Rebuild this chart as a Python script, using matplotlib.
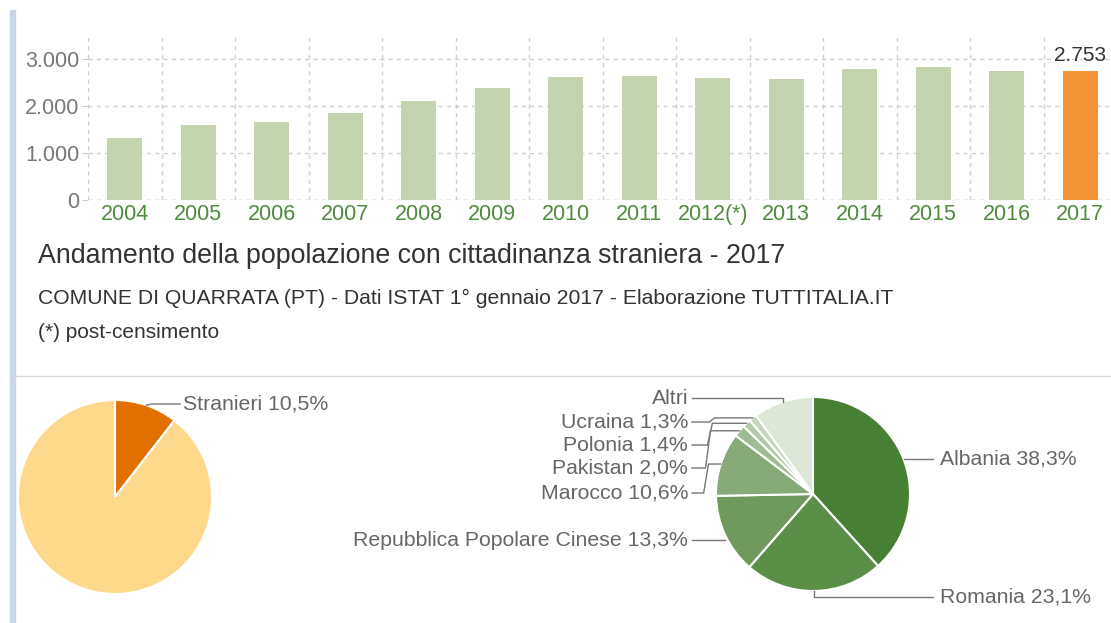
import numpy as np
import matplotlib.pyplot as plt
from matplotlib.patches import Rectangle
from matplotlib.lines import Line2D

plt.rcParams['font.family'] = ['Liberation Sans', 'DejaVu Sans']

W, H = 1111, 623

# ---- data ----
years = ["2004", "2005", "2006", "2007", "2008", "2009", "2010",
         "2011", "2012(*)", "2013", "2014", "2015", "2016", "2017"]
foreigners = [1315, 1600, 1670, 1850, 2110, 2395, 2620,
              2650, 2610, 2580, 2785, 2840, 2750, 2753]

share_labels = ["Stranieri", "Italiani"]
share_values = [10.5, 89.5]

countries = ["Albania", "Romania", "Repubblica Popolare Cinese", "Marocco",
             "Pakistan", "Polonia", "Ucraina", "Altri"]
country_pct = [38.3, 23.1, 13.3, 10.6, 2.0, 1.4, 1.3, 10.0]


def fbox(x0, y0, x1, y1):
    # pixel box (top-left origin) -> figure fraction rect
    return [x0 / W, 1 - y1 / H, (x1 - x0) / W, (y1 - y0) / H]


fig = plt.figure(figsize=(W / 100, H / 100), dpi=100)
fig.patch.set_facecolor("white")

# left blue stripe + separator
fig.patches.append(Rectangle((10 / W, 0), 5 / W, 1 - 10 / H, transform=fig.transFigure,
                             color="#c9d6e6", zorder=0))
fig.add_artist(Line2D([15 / W, 1], [1 - 376 / H] * 2, color="#dcdcdc", lw=1))

# ---- bar chart ----
ax = fig.add_axes(fbox(88, 35, 1117, 200))
x = np.arange(len(years))
colors = ["#c3d4ae"] * (len(years) - 1) + ["#f39335"]
ax.bar(x, foreigners, width=0.48, color=colors, zorder=2)
ax.set_xlim(-0.5, len(years) - 0.5)
ax.set_ylim(0, 3520)
ax.set_yticks([0, 1000, 2000, 3000])
ax.set_yticklabels(["0", "1.000", "2.000", "3.000"])
ax.set_xticks(x)
ax.set_xticklabels(years)
ax.set_xticks(np.arange(-0.5, len(years), 1), minor=True)
ax.tick_params(axis="y", colors="#cccccc", labelcolor="#777777", labelsize=15.5, length=4, pad=2)
ax.tick_params(axis="x", which="major", length=0, labelcolor="#4e8a3e", labelsize=15.5, pad=3)
ax.tick_params(axis="x", which="minor", length=0)
for s in ax.spines.values():
    s.set_visible(False)
ax.grid(axis="y", which="major", color="#cfcfcf", ls=(0, (3, 3)), lw=1, zorder=0)
ax.grid(axis="x", which="minor", color="#cfcfcf", ls=(0, (3, 3)), lw=1, zorder=0)
ax.axhline(0, color="#bbbbbb", ls=(0, (3, 3)), lw=1, zorder=1)
last = len(years) - 1
ax.text(x[last], foreigners[last] + 120, f"{foreigners[last]:,}".replace(",", "."),
        ha="center", va="bottom", fontsize=15, color="#333333")

# ---- titles ----
fig.text(38 / W, 1 - 256 / H, "Andamento della popolazione con cittadinanza straniera - 2017",
         fontsize=19.3, color="#333333", va="center")
fig.text(38 / W, 1 - 298 / H,
         "COMUNE DI QUARRATA (PT) - Dati ISTAT 1° gennaio 2017 - Elaborazione TUTTITALIA.IT",
         fontsize=15.2, color="#333333", va="center")
fig.text(38 / W, 1 - 332 / H, "(*) post-censimento", fontsize=15, color="#333333", va="center")


def pie_axes(cx, cy, r):
    return fig.add_axes(fbox(cx - r, cy - r, cx + r, cy + r))


def finish_pie(a):
    a.set_xlim(-1, 1)
    a.set_ylim(-1, 1)
    a.set_aspect("equal")
    a.axis("off")


def edge_point(cum_before, pct):
    ang = np.deg2rad((cum_before + pct / 2) * 3.6)
    return np.sin(ang), np.cos(ang)


label_col = "#666666"
line_col = "#777777"
lab_size = 15.3

# ---- left pie ----
R = 97
lcx, lcy = 115, 497
pa = pie_axes(lcx, lcy, R)
pa.pie(share_values, colors=["#e17000", "#fed98c"], startangle=90, counterclock=False,
       radius=1, wedgeprops=dict(edgecolor="white", linewidth=1.5))
finish_pie(pa)
ex, ey = edge_point(0, share_values[0])
ty = (lcy - 404) / R
tx = (180 - lcx) / R
pa.plot([ex, ex + 0.05, tx], [ey, ty, ty], color=line_col, lw=1, clip_on=False)
pa.text(tx + 0.03, ty, f"{share_labels[0]} {share_values[0]:.1f}%".replace(".", ","),
        fontsize=lab_size, color=label_col, va="center", ha="left")

# ---- right pie ----
rcx, rcy = 813, 494
pb = pie_axes(rcx, rcy, R)
greens = ["#477f34", "#5a8f48", "#6e9a5c", "#88aa79", "#9ebb91", "#b1c9a6", "#c5d6bc", "#dde7d8"]
pb.pie(country_pct, colors=greens, startangle=90, counterclock=False, radius=1,
       wedgeprops=dict(edgecolor="white", linewidth=1.5))
finish_pie(pb)

cum = np.concatenate([[0], np.cumsum(country_pct)[:-1]])
# label y positions (pixels)
label_y = [459, 597, 540, 493, 468, 445, 422, 398]
right_x = (933 - rcx) / R
left_x = (692 - rcx) / R
for i, name in enumerate(countries):
    ex, ey = edge_point(cum[i], country_pct[i])
    ly = (rcy - label_y[i]) / R
    txt = name if name == "Altri" else f"{name} {country_pct[i]:.1f}%".replace(".", ",")
    if ex > 0:
        pb.plot([ex, ex, right_x], [ey, ly, ly], color=line_col, lw=1, clip_on=False)
        pb.text(right_x + 0.07, ly, txt, fontsize=lab_size, color=label_col, va="center", ha="left")
    else:
        if name == "Altri":
            xs, ys = [left_x, ex, ex], [ly, ly, ey]
        elif name == "Repubblica Popolare Cinese":
            xs, ys = [left_x, ex], [ly, ly]
        else:
            bend = left_x + 0.12 + 0.02 * (i - 3)
            xs = [left_x, bend, bend + 0.05, ex]
            ys = [ly, ly, ey, ey]
        pb.plot(xs, ys, color=line_col, lw=1, clip_on=False)
        pb.text(left_x - 0.04, ly, txt, fontsize=lab_size, color=label_col, va="center", ha="right")

fig.savefig("out.png", dpi=100)
